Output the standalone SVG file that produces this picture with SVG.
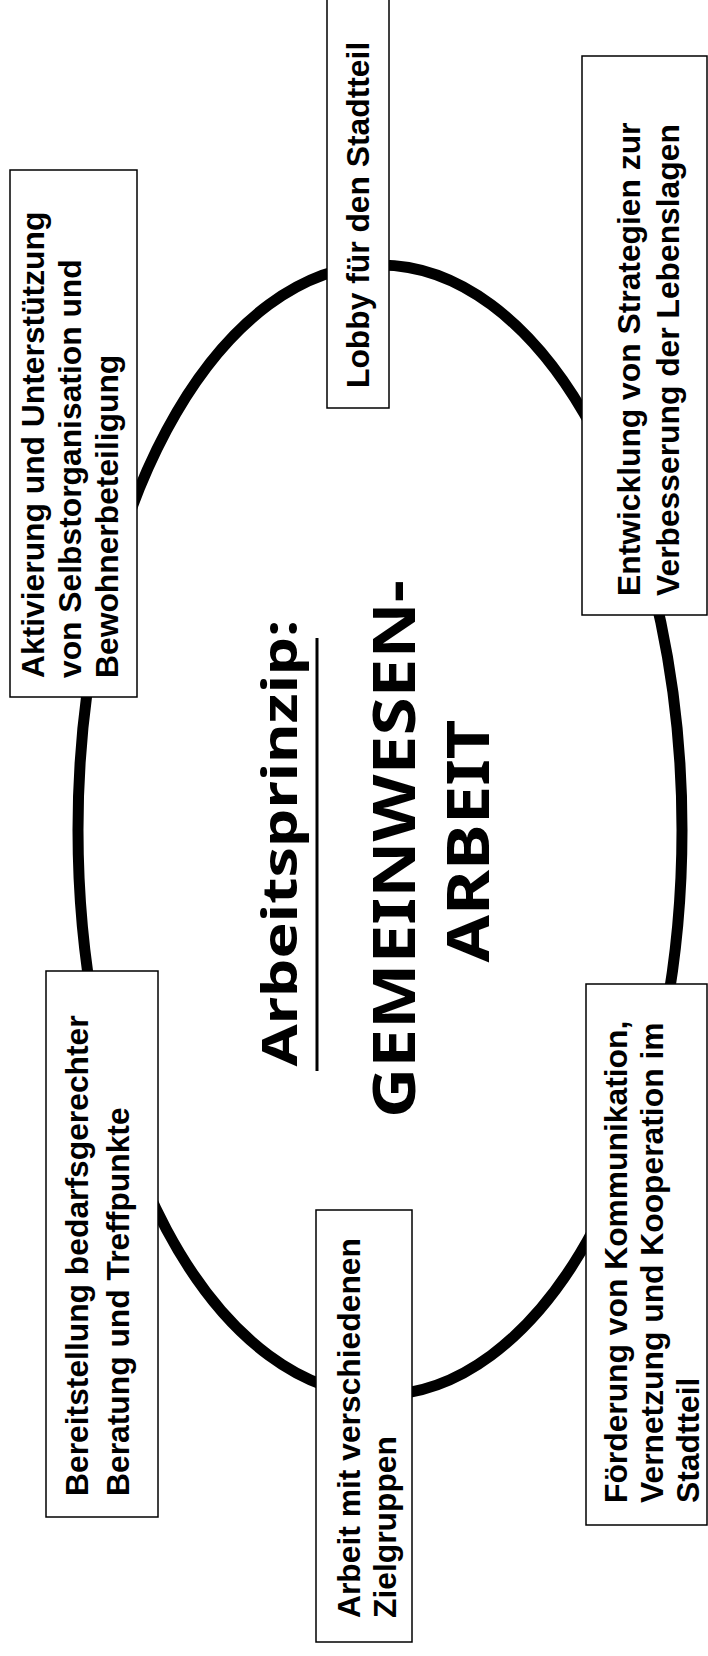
<svg xmlns="http://www.w3.org/2000/svg" width="708" height="1656" viewBox="0 0 708 1656">
<style>
.box{fill:#fff;stroke:#000;stroke-width:1.5}
.lbl{font-family:"Liberation Sans",Arial,sans-serif;font-weight:bold;font-size:31.8px;fill:#000}
.ctr{font-family:"Comic Sans MS","Noto Sans","DejaVu Sans",sans-serif;font-weight:bold;fill:#000;text-anchor:middle}
.ring{fill:none;stroke:#000;stroke-width:11}
</style>
<rect width="708" height="1656" fill="#fff"/>
<g id="connectors">
<ellipse class="ring" cx="380" cy="830" rx="302" ry="565"/>
</g>
<g id="center">
<text class="ctr" font-size="49" textLength="447" lengthAdjust="spacingAndGlyphs" transform="translate(297,843) rotate(-90)">Arbeitsprinzip:</text>
<line x1="317" y1="638" x2="317" y2="1071" stroke="#000" stroke-width="3"/>
<text class="ctr" font-size="60" textLength="538" lengthAdjust="spacingAndGlyphs" transform="translate(415,849) rotate(-90)">GEMEINWESEN-</text>
<text class="ctr" font-size="59" textLength="243" lengthAdjust="spacingAndGlyphs" transform="translate(489,841) rotate(-90)">ARBEIT</text>
</g>
<g id="n-aktivierung">
<rect class="box" x="10" y="170" width="127" height="527"/>
<text class="lbl" transform="translate(44,678) rotate(-90)"><tspan x="0" y="0">Aktivierung und Unterstützung</tspan><tspan x="0" y="37">von Selbstorganisation und</tspan><tspan x="0" y="74">Bewohnerbeteiligung</tspan></text>
</g>
<g id="n-lobby">
<rect class="box" x="327" y="-2" width="62" height="410"/>
<text class="lbl" transform="translate(369,388) rotate(-90)">Lobby für den Stadtteil</text>
</g>
<g id="n-entwicklung">
<rect class="box" x="582" y="56" width="125" height="559"/>
<text class="lbl" transform="translate(640,596) rotate(-90)"><tspan x="0" y="0">Entwicklung von Strategien zur</tspan><tspan x="0" y="39">Verbesserung der Lebenslagen</tspan></text>
</g>
<g id="n-bereitstellung">
<rect class="box" x="46" y="971" width="112" height="546"/>
<text class="lbl" transform="translate(88,1496) rotate(-90)"><tspan x="0" y="0">Bereitstellung bedarfsgerechter</tspan><tspan x="0" y="41">Beratung und Treffpunkte</tspan></text>
</g>
<g id="n-arbeit">
<rect class="box" x="316" y="1210" width="96" height="432"/>
<text class="lbl" transform="translate(360,1618) rotate(-90)"><tspan x="0" y="0">Arbeit mit verschiedenen</tspan><tspan x="0" y="36">Zielgruppen</tspan></text>
</g>
<g id="n-foerderung">
<rect class="box" x="586" y="984" width="121" height="541"/>
<text class="lbl" transform="translate(627,1503) rotate(-90)"><tspan x="0" y="0">Förderung von Kommunikation,</tspan><tspan x="0" y="36">Vernetzung und Kooperation im</tspan><tspan x="0" y="72">Stadtteil</tspan></text>
</g>
</svg>
